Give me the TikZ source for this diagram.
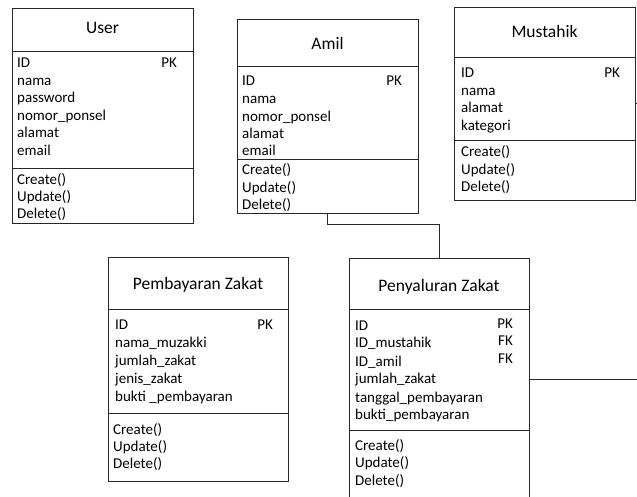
\documentclass[tikz,border=0pt]{standalone}
\usepackage{fontspec}
\setmainfont{Carlito}
\begin{document}
\begin{tikzpicture}[x=1pt,y=-1pt,
  box/.style={draw=black!85, line width=0.8pt, inner sep=0pt, outer sep=0pt, anchor=north west},
  sepline/.style={draw=black!85, line width=0.8pt},
  conn/.style={draw=black!85, line width=0.8pt},
  ttl/.style={font=\fontsize{17.5}{20}\selectfont, anchor=base, inner sep=0pt},
  att/.style={font=\fontsize{15}{17.5}\selectfont, anchor=base west, inner sep=0pt},
  pkey/.style={font=\fontsize{15}{17.5}\selectfont, anchor=base east, inner sep=0pt}]
\clip (0,0) rectangle (637,497);
\fill[white] (0,0) rectangle (637,497);

% ---------- User ----------
\node[box, minimum width=181pt, minimum height=215pt] (user) at (12,8) {};
\draw[sepline] (user.west |- 0,51) -- (user.east |- 0,51);
\draw[sepline] (user.west |- 0,168) -- (user.east |- 0,168);
\node[ttl] (userT) at (102.5,34) {User};
\node[att] (u1) at (17,67.5) {ID};
\node[pkey] (u1k) at (177,67.5) {PK};
\node[att] (u2) at (17,85.5) {nama};
\node[att] (u3) at (17,102.5) {password};
\node[att] (u4) at (17,120.5) {nomor\_ponsel};
\node[att] (u5) at (17,137.5) {alamat};
\node[att] (u6) at (17,155.5) {email};
\node[att] (u7) at (17,184.5) {Create()};
\node[att] (u8) at (17,201.5) {Update()};
\node[att] (u9) at (17,218.5) {Delete()};

% ---------- Amil ----------
\node[box, minimum width=181pt, minimum height=194pt] (amil) at (237,19) {};
\draw[sepline] (amil.west |- 0,66) -- (amil.east |- 0,66);
\draw[sepline] (amil.west |- 0,159) -- (amil.east |- 0,159);
\node[ttl] (amilT) at (327.5,50) {Amil};
\node[att] (a1) at (242,85.5) {ID};
\node[pkey] (a1k) at (402,85.5) {PK};
\node[att] (a2) at (242,103.5) {nama};
\node[att] (a3) at (242,121.5) {nomor\_ponsel};
\node[att] (a4) at (242,138.5) {alamat};
\node[att] (a5) at (242,155.5) {email};
\node[att] (a6) at (242,174.5) {Create()};
\node[att] (a7) at (242,192.5) {Update()};
\node[att] (a8) at (242,209.5) {Delete()};

% ---------- Mustahik ----------
\node[box, minimum width=181pt, minimum height=193pt] (mu) at (454,7) {};
\draw[sepline] (mu.west |- 0,57) -- (mu.east |- 0,57);
\draw[sepline] (mu.west |- 0,140) -- (mu.east |- 0,140);
\node[ttl] (muT) at (544.5,38) {Mustahik};
\node[att] (m1) at (461,77.5) {ID};
\node[pkey] (m1k) at (620,77.5) {PK};
\node[att] (m2) at (461,95.5) {nama};
\node[att] (m3) at (461,112.5) {alamat};
\node[att] (m4) at (461,130.5) {kategori};
\node[att] (m5) at (461,156.5) {Create()};
\node[att] (m6) at (461,174.5) {Update()};
\node[att] (m7) at (461,191.5) {Delete()};

% ---------- Pembayaran Zakat ----------
\node[box, minimum width=180pt, minimum height=224pt] (pb) at (108,257) {};
\draw[sepline] (pb.west |- 0,309) -- (pb.east |- 0,309);
\draw[sepline] (pb.west |- 0,413) -- (pb.east |- 0,413);
\node[ttl] (pbT) at (198,289) {Pembayaran Zakat};
\node[att] (b1) at (115,329.5) {ID};
\node[pkey] (b1k) at (273,329.5) {PK};
\node[att] (b2) at (115,347.5) {nama\_muzakki};
\node[att] (b3) at (115,365.5) {jumlah\_zakat};
\node[att] (b4) at (115,383.5) {jenis\_zakat};
\node[att] (b5) at (115,401.5) {bukti \_pembayaran};
\node[att] (b6) at (113,434.5) {Create()};
\node[att] (b7) at (113,451.5) {Update()};
\node[att] (b8) at (113,468.5) {Delete()};

% ---------- Penyaluran Zakat ----------
\node[box, minimum width=180pt, minimum height=252pt] (pz) at (349,258) {};
\draw[sepline] (pz.west |- 0,309) -- (pz.east |- 0,309);
\draw[sepline] (pz.west |- 0,430) -- (pz.east |- 0,430);
\node[ttl] (pzT) at (439,291) {Penyaluran Zakat};
\node[att] (z1) at (355,330.5) {ID};
\node[pkey] (z1k) at (513,328.5) {PK};
\node[att] (z2) at (355,347.5) {ID\_mustahik};
\node[pkey] (z2k) at (513,345.5) {FK};
\node[att] (z3) at (355,366) {ID\_amil};
\node[pkey] (z3k) at (513,363) {FK};
\node[att] (z4) at (355,383.5) {jumlah\_zakat};
\node[att] (z5) at (355,402) {tanggal\_pembayaran};
\node[att] (z6) at (355,419.5) {bukti\_pembayaran};
\node[att] (z7) at (355,450.5) {Create()};
\node[att] (z8) at (355,467) {Update()};
\node[att] (z9) at (355,485.5) {Delete()};

% ---------- Connectors ----------
\draw[conn] (amil.south) -- ++(0,11) -| (pz.north);
\coordinate (e1) at (637,379);
\draw[conn] (pz.east |- e1) -- (e1);
\coordinate (e2) at (637,103);
\draw[conn] (mu.east |- e2) -- (e2);
\end{tikzpicture}
\end{document}
